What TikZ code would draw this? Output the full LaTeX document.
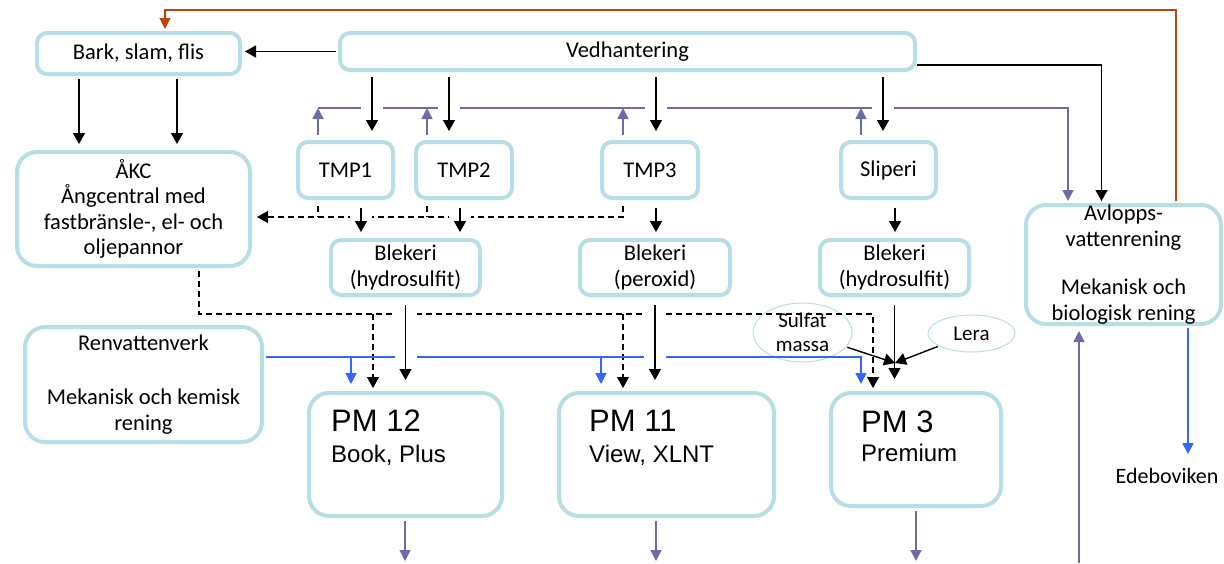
\documentclass[tikz,border=0pt]{standalone}
\usepackage{fontspec}
\setmainfont{Carlito}
\newfontfamily\pmfont{Liberation Sans}
\usetikzlibrary{arrows.meta,positioning,shapes.geometric}
\definecolor{boxc}{RGB}{183,222,228}
\definecolor{purp}{RGB}{110,108,168}
\definecolor{blu}{RGB}{51,102,255}
\definecolor{brn}{RGB}{190,65,10}

\tikzset{
  box/.style={draw=boxc, line width=4pt, rounded corners=10pt, align=center,
    inner sep=0pt, font=\fontsize{22.5}{25.5}\selectfont},
  bigbox/.style={box, rounded corners=20pt},
  oval/.style={draw=boxc, line width=1pt, ellipse, inner sep=0pt, align=center,
    font=\fontsize{21}{24}\selectfont},
  pmtext/.style={inner sep=0pt, align=left, font=\pmfont\fontsize{24}{24}\selectfont},
  arr/.style={line width=1.4pt, -{Triangle[width=12pt,length=11pt]},
    shorten <=4pt, shorten >=4pt},
  halo/.style={preaction={draw=white, line width=22pt, -}},
  dashln/.style={line width=1.2pt, dash pattern=on 6pt off 4pt},
  dasharr/.style={arr, line width=1.2pt, dash pattern=on 6pt off 4pt},
  purarr/.style={arr, draw=purp, line width=1.4pt, -{Triangle[width=11pt,length=11pt]}},
  bluarr/.style={arr, draw=blu, line width=1.4pt, -{Triangle[width=11pt,length=11pt]}},
  brnarr/.style={arr, draw=brn, line width=1.2pt, -{Triangle[width=11pt,length=11pt]}}
}

\begin{document}
\begin{tikzpicture}[x=1pt,y=-1pt]
\useasboundingbox (0,0) rectangle (1224,563);

\node[box, minimum width=203pt, minimum height=41pt] (bark) at (138.5,53.5) {Bark, slam, flis};
\node[box, minimum width=575pt, minimum height=37pt] (ved) at (627.5,51.5) {Vedhantering};
\node[bigbox, minimum width=233pt, minimum height=114pt] (akc) at (133.5,209)
  {ÅKC\\Ångcentral med\\fastbränsle-, el- och\\oljepannor};
\node[box, minimum width=95pt, minimum height=56pt] (tmp1) at (345.5,170) {TMP1};
\node[box, minimum width=96pt, minimum height=56pt] (tmp2) at (464,170) {TMP2};
\node[box, minimum width=96pt, minimum height=56pt] (tmp3) at (650,170) {TMP3};
\node[box, minimum width=95pt, minimum height=56pt] (slip) at (888.5,170) {Sliperi};
\node[box, minimum width=149pt, minimum height=55pt] (blek1) at (405.5,267.5) {Blekeri\\(hydrosulfit)};
\node[box, minimum width=150pt, minimum height=55pt] (blek2) at (655,267.5) {Blekeri\\(peroxid)};
\node[box, minimum width=149pt, minimum height=55pt] (blek3) at (894.5,267.5) {Blekeri\\(hydrosulfit)};
\node[bigbox, minimum width=195pt, minimum height=115pt] (avl) at (1123.5,264.5)
  {Avlopps-\\vattenrening\\[23pt]Mekanisk och\\biologisk rening};
\node[bigbox, minimum width=237pt, minimum height=115pt] (renv) at (143.5,384.5)
  {Renvattenverk\\[29pt]Mekanisk och kemisk\\rening};
\node[bigbox, minimum width=193pt, minimum height=123pt] (pm12) at (405.5,454.5) {};
\node[bigbox, minimum width=215pt, minimum height=123pt] (pm11) at (666.5,454.5) {};
\node[bigbox, minimum width=170pt, minimum height=113pt] (pm3) at (916,449.5) {};
\node[pmtext, below right=19pt and 24pt of pm12.north west] (pm12t)
  {{\fontsize{31}{31}\selectfont PM 12}\\[7pt]Book, Plus};
\node[pmtext, below right=19pt and 32pt of pm11.north west] (pm11t)
  {{\fontsize{31}{31}\selectfont PM 11}\\[7pt]View, XLNT};
\node[pmtext, below right=20pt and 32pt of pm3.north west] (pm3t)
  {{\fontsize{31}{31}\selectfont PM 3}\\[5pt]Premium};
\node[oval, minimum width=99pt, minimum height=59pt] (sulfat) at (802.5,332.5) {Sulfat\\massa};
\node[oval, minimum width=87pt, minimum height=37pt] (lera) at (971.5,333.5) {Lera};
\node[inner sep=0pt, font=\fontsize{22}{24}\selectfont] (edebo) at (1167,476) {Edeboviken};

% returflöden
\coordinate (busw) at (318,108);
\coordinate (buse) at (1068,108);
\draw[purarr, shorten <=0pt, shorten >=2pt] (busw) -- (buse) -- (buse |- avl.north);
\foreach \x/\n in {318/tmp1,427/tmp2,623/tmp3,861/slip}
  \draw[purarr, shorten <=5pt, shorten >=0pt] (\x,0 |- \n.north) -- (\x,0 |- busw);

\coordinate (topr) at (1176,10);
\coordinate (topl) at (165,10);
\draw[brnarr, shorten <=2pt, shorten >=2pt] (1176,0 |- avl.north) -- (topr) -- (topl) -- (topl |- bark.north);

% ånga
\draw[dasharr, shorten <=6pt, shorten >=5pt] (623,0 |- tmp3.south) -- (623,217) -- (akc.east |- 0,217);
\draw[dashln, shorten <=6pt] (318,0 |- tmp1.south) -- (318,217);
\draw[dashln, shorten <=6pt] (427,0 |- tmp2.south) -- (427,217);
\draw[dasharr, shorten <=3pt, shorten >=3pt] (199,0 |- akc.south) -- (199,314) -- (873,314) -- (873,0 |- pm3.north);
\draw[dasharr, shorten <=0pt, shorten >=3pt] (373,314) -- (373,0 |- pm12.north);
\draw[dasharr, shorten <=0pt, shorten >=3pt] (623,314) -- (623,0 |- pm11.north);

% vatten
\draw[bluarr, shorten <=2pt, shorten >=7pt] ([yshift=27.5pt]renv.east) -- (861,357) -- (861,0 |- pm3.north);
\draw[bluarr, shorten <=0pt, shorten >=7pt] (351,357) -- (351,0 |- pm12.north);
\draw[bluarr, shorten <=0pt, shorten >=7pt] (601,357) -- (601,0 |- pm11.north);

% ved och massa
\draw[arr, shorten <=2pt, shorten >=3pt] (ved.west) -- (ved.west -| bark.east);
\foreach \x in {79,177}
  \draw[arr, shorten <=3pt, shorten >=6pt] (\x,0 |- bark.south) -- (\x,0 |- akc.north);
\foreach \x/\n in {372/tmp1,449/tmp2,656/tmp3,883/slip}
  \draw[arr, halo, shorten <=5pt, shorten >=9pt] (\x,0 |- ved.south) -- (\x,0 |- \n.north);
\draw[arr, shorten <=0pt, shorten >=2pt] ([yshift=-13.5pt]ved.east) -| ([xshift=-22pt]avl.north);
\foreach \x/\a/\b in {361/tmp1/blek1,460/tmp2/blek1,656/tmp3/blek2,895/slip/blek3}
  \draw[arr, halo, shorten <=8pt, shorten >=6pt] (\x,0 |- \a.south) -- (\x,0 |- \b.north);
\draw[arr, halo, shorten <=8pt, shorten >=11pt] (blek1.south) -- (blek1.south |- pm12.north);
\draw[arr, halo, shorten <=8pt, shorten >=11pt] (blek2.south) -- (blek2.south |- pm11.north);
\draw[arr, shorten <=8pt, shorten >=12pt] (blek3.south) -- (blek3.south |- pm3.north);
\coordinate (mix) at (895,363);
\draw[arr, shorten <=1pt, shorten >=0pt] (sulfat) -- (mix);
\draw[arr, shorten <=1pt, shorten >=0pt] (lera) -- (mix);

% utflöden
\foreach \x/\n in {405/pm12,656/pm11,916/pm3}
  \draw[purarr, shorten <=3pt, shorten >=0pt] (\x,0 |- \n.south) -- (\x,561);
\coordinate (avlin) at (1079,563);
\draw[purarr, shorten <=0pt, shorten >=5pt] (avlin) -- (avlin |- avl.south);
\draw[bluarr, shorten <=2pt, shorten >=14pt] (1188,0 |- avl.south) -- (1188,0 |- edebo.north);
\end{tikzpicture}
\end{document}
